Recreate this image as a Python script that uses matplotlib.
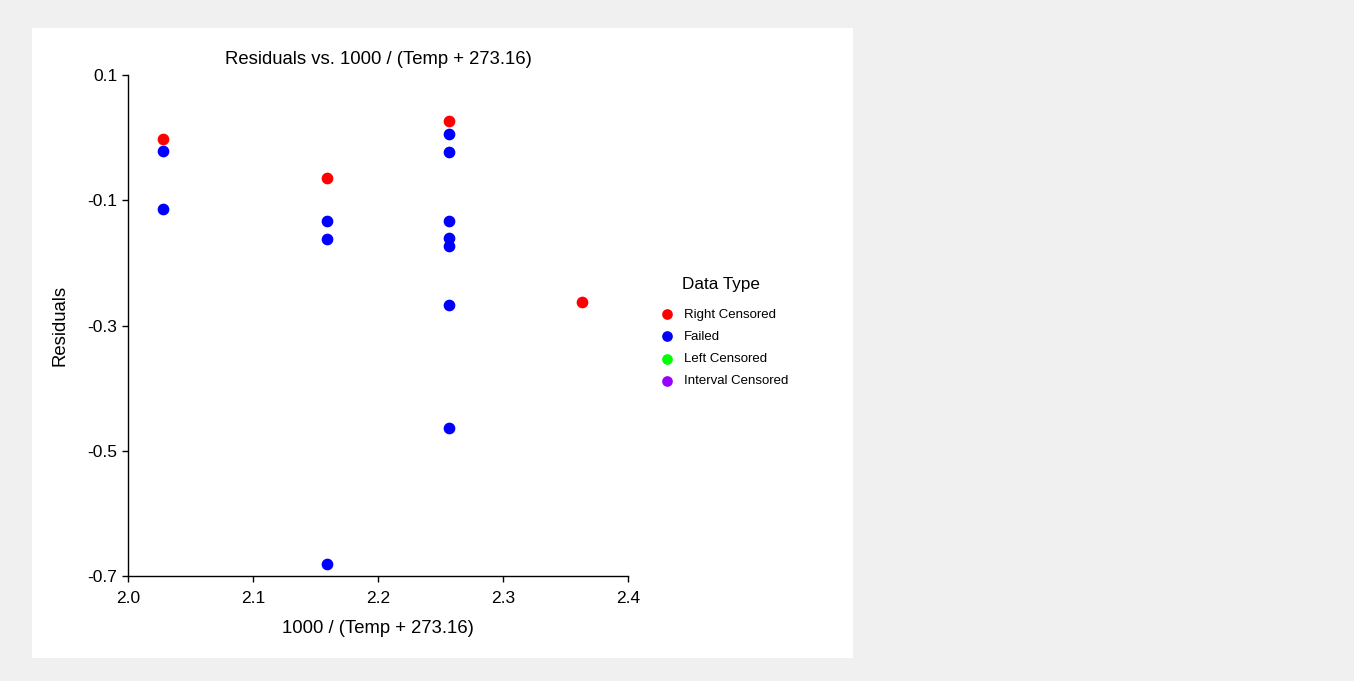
import matplotlib
matplotlib.use("Agg")
from matplotlib import pyplot as plt
from matplotlib.patches import Rectangle

plt.rcParams['font.family'] = ['Liberation Sans', 'DejaVu Sans']

# x = 1000 / (Temp + 273.16), y = residuals
right_x = [2.0278, 2.1591, 2.2566, 2.3632]
right_y = [-0.0017, -0.065, 0.026, -0.2625]

failed_x = [2.0278, 2.0278,
            2.1591, 2.1591, 2.1591,
            2.2566, 2.2566, 2.2566, 2.2566, 2.2566, 2.2566, 2.2566]
failed_y = [-0.0214, -0.1134,
            -0.1326, -0.1624, -0.681,
            0.0053, -0.0235, -0.133, -0.161, -0.173, -0.267, -0.464]

left_x, left_y = [], []
interval_x, interval_y = [], []

x_ticks = [2.0, 2.1, 2.2, 2.3, 2.4]
y_ticks = [0.1, -0.1, -0.3, -0.5, -0.7]

fig = plt.figure(figsize=(13.54, 6.81), dpi=100, facecolor='#f0f0f0')
fig.patches.append(Rectangle((32 / 1354, 1 - 658 / 681), 821 / 1354, 630 / 681,
                             transform=fig.transFigure, facecolor='white',
                             edgecolor='none', zorder=-5))

ax = fig.add_axes([128 / 1354, 1 - 576 / 681, 500 / 1354, 501 / 681])
ax.set_zorder(2)
ax.set_facecolor('none')

ms = 55
ax.scatter(right_x, right_y, s=ms, color='#ff0000', label='Right Censored', zorder=3)
ax.scatter(failed_x, failed_y, s=ms, color='#0000ff', label='Failed', zorder=3)
ax.scatter(left_x, left_y, s=ms, color='#00ff00', label='Left Censored')
ax.scatter(interval_x, interval_y, s=ms, color='#9900ff', label='Interval Censored')

ax.set_xlim(2.0, 2.4)
ax.set_ylim(-0.7, 0.1)
ax.set_xticks(x_ticks)
ax.set_yticks(y_ticks)
ax.set_xticklabels([f"{v:.1f}" for v in x_ticks])
ax.set_yticklabels([f"{v:.1f}" for v in y_ticks])
ax.tick_params(direction='out', length=4.5, width=1, labelsize=12.5)
ax.tick_params(axis='x', pad=6.5)
ax.tick_params(axis='y', pad=3)

for side in ['top', 'right']:
    ax.spines[side].set_visible(False)
for side in ['left', 'bottom']:
    ax.spines[side].set_linewidth(1)

ax.set_title("Residuals vs. 1000 / (Temp + 273.16)", fontsize=13.3, pad=8)
ax.set_xlabel("1000 / (Temp + 273.16)", fontsize=13.3, labelpad=10)
ax.set_ylabel("Residuals", fontsize=13.3, labelpad=14)

leg = ax.legend(loc='upper left', bbox_to_anchor=(642 / 1354, 1 - 265 / 681),
                bbox_transform=fig.transFigure, frameon=False,
                title='Data Type', title_fontsize=12.3, fontsize=9.5,
                labelspacing=0.75, handletextpad=0.3, markerscale=0.9)
leg._legend_box.sep = 12

fig.savefig('out.png', dpi=100, facecolor=fig.get_facecolor())
